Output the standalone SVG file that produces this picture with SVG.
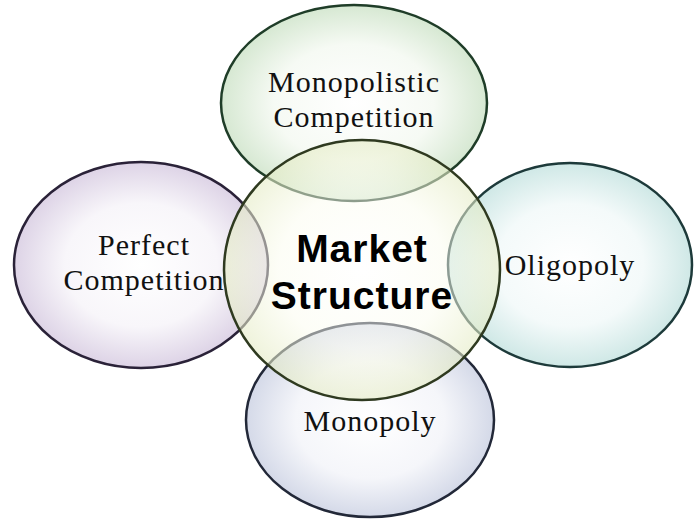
<svg xmlns="http://www.w3.org/2000/svg" width="700" height="525" viewBox="0 0 700 525">
<style>
.o{stroke-width:2.5}
.t{font-family:"Liberation Serif",serif;font-size:30px;letter-spacing:1px;fill:#111;text-anchor:middle}
.c{font-family:"Liberation Sans",sans-serif;font-size:39px;font-weight:bold;letter-spacing:1px;fill:#000;text-anchor:middle}
</style>
<defs>
<radialGradient id="gG"><stop offset="0" stop-color="#fff"/><stop offset="0.6" stop-color="#f6faf4"/><stop offset="1" stop-color="#d6e8d2"/></radialGradient>
<radialGradient id="gP"><stop offset="0" stop-color="#fff"/><stop offset="0.6" stop-color="#f8f6fa"/><stop offset="1" stop-color="#ddd3e6"/></radialGradient>
<radialGradient id="gT"><stop offset="0" stop-color="#fff"/><stop offset="0.6" stop-color="#f4fafa"/><stop offset="1" stop-color="#cfe8e6"/></radialGradient>
<radialGradient id="gB"><stop offset="0" stop-color="#fff"/><stop offset="0.6" stop-color="#f5f6fa"/><stop offset="1" stop-color="#d4d9e8"/></radialGradient>
<radialGradient id="gC"><stop offset="0" stop-color="#fff" stop-opacity="0.5"/><stop offset="0.6" stop-color="#fbfcef" stop-opacity="0.5"/><stop offset="1" stop-color="#e4ebc4" stop-opacity="0.6"/></radialGradient>
</defs>
<rect width="700" height="525" fill="#fff"/>
<g id="monopolistic"><ellipse class="o" cx="354" cy="103" rx="133" ry="98" fill="url(#gG)" stroke="#1f3d28"/>
<text class="t" x="354" y="92">Monopolistic</text><text class="t" x="354" y="127">Competition</text></g>
<g id="perfect"><ellipse class="o" cx="141" cy="265" rx="127" ry="103" fill="url(#gP)" stroke="#2a2238"/>
<text class="t" x="144" y="255">Perfect</text><text class="t" x="144" y="290">Competition</text></g>
<g id="oligopoly"><ellipse class="o" cx="570" cy="265" rx="122" ry="102" fill="url(#gT)" stroke="#1d3a3a"/>
<text class="t" x="570" y="275">Oligopoly</text></g>
<g id="monopoly"><ellipse class="o" cx="370" cy="420" rx="124" ry="97" fill="url(#gB)" stroke="#222838"/>
<text class="t" x="370" y="431">Monopoly</text></g>
<g id="market"><ellipse class="o" cx="362" cy="270" rx="138" ry="130" fill="url(#gC)" stroke="#2f3a20"/>
<text class="c" x="362" y="262">Market</text><text class="c" x="362" y="309">Structure</text></g>
<g id="connectors"/>
</svg>
